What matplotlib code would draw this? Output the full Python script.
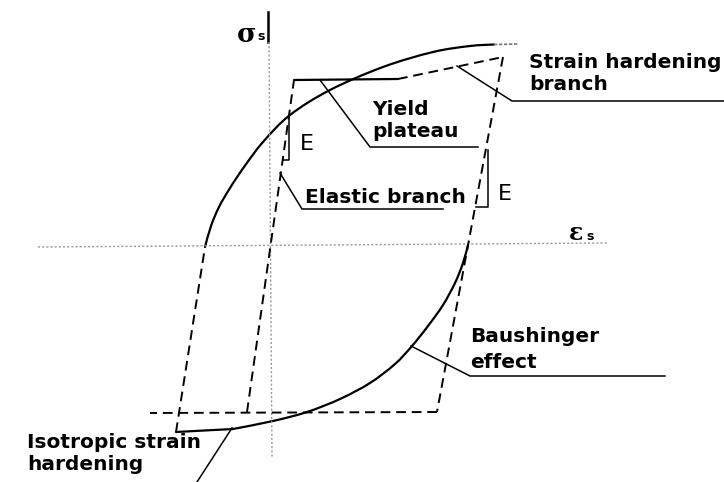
import matplotlib
matplotlib.use("Agg")
import matplotlib.pyplot as plt
from matplotlib.path import Path
from matplotlib.patches import PathPatch

# ---- schematic data (image-space units: x right, y down) ----
# monotonic envelope (inner dashed cycle)
elastic_x = [247, 294]
elastic_y = [412, 80]
plateau_x = [294, 398]
plateau_y = [80, 79]
hardening_x = [398, 503]
hardening_y = [79, 57]
unload_x = [503, 437]
unload_y = [57, 412]
compression_x = [437, 150]
compression_y = [412, 413]

# cyclic curve: upper branch
upper_dash_x = [176, 205]
upper_dash_y = [432, 247]
upper_arc_x = [205, 211, 219, 230, 244, 263, 290, 330, 383, 433, 470, 494]
upper_arc_y = [247, 226, 207, 188, 167, 142, 115, 90, 67, 52, 46, 44.5]
upper_tail_x = [494, 518]
upper_tail_y = [44.5, 44]

# cyclic curve: lower branch
lower_x = [176, 233, 273, 307, 340, 370, 395, 412, 428, 443, 455, 463, 468]
lower_y = [432, 429, 421, 412, 399, 383, 364, 346, 326, 305, 283, 263, 245]

# axes
sig_axis_x = [268, 268]
sig_axis_y = [12, 42]
sig_dot_x = [269, 272]
sig_dot_y = [42, 457]
eps_dot_x = [38, 608]
eps_dot_y = [247, 243]

# slope triangles
e_left_x = [289, 289, 283]
e_left_y = [115, 160, 160]
e_right_x = [488, 488, 476]
e_right_y = [150, 207, 207]

# leader lines
lead_strain_x = [457, 512, 724]
lead_strain_y = [66, 101, 101]
lead_yield_x = [320, 370, 478]
lead_yield_y = [80, 147, 147]
lead_elastic_x = [280, 302, 443]
lead_elastic_y = [173, 209, 209]
lead_bausch_x = [411, 470, 665]
lead_bausch_y = [346, 376, 376]
lead_iso_x = [232, 197]
lead_iso_y = [428, 482]

# labels: (text, x, baseline y)
labels_bold = [
    ("Strain hardening", 529, 68),
    ("branch", 529, 90),
    ("Yield", 372, 115),
    ("plateau", 372, 137),
    ("Elastic branch", 305, 203),
    ("Baushinger", 470, 342),
    ("effect", 470, 368),
    ("Isotropic strain", 27, 448),
    ("hardening", 27, 470),
]
labels_E = [("E", 300, 150), ("E", 498, 200)]


def smooth_path(xs, ys):
    """Cubic Bezier path passing through the given vertices (Catmull-Rom)."""
    pts = list(zip(xs, ys))
    verts = [pts[0]]
    codes = [Path.MOVETO]
    n = len(pts)
    for i in range(n - 1):
        p0 = pts[i - 1] if i > 0 else pts[i]
        p1 = pts[i]
        p2 = pts[i + 1]
        p3 = pts[i + 2] if i + 2 < n else pts[i + 1]
        c1 = (p1[0] + (p2[0] - p0[0]) / 6.0, p1[1] + (p2[1] - p0[1]) / 6.0)
        c2 = (p2[0] - (p3[0] - p1[0]) / 6.0, p2[1] - (p3[1] - p1[1]) / 6.0)
        verts += [c1, c2, p2]
        codes += [Path.CURVE4] * 3
    return Path(verts, codes)


fig = plt.figure(figsize=(7.24, 4.82), dpi=100)
ax = fig.add_axes([0, 0, 1, 1])
ax.set_xlim(0, 724)
ax.set_ylim(482, 0)
ax.axis("off")

dash = dict(color="black", lw=1.4, linestyle=(0, (5, 3)), solid_capstyle="butt")
solid = dict(color="black", lw=1.6, solid_capstyle="round")
thin = dict(color="black", lw=1.1)

# axes (dotted grey)
ax.plot(sig_axis_x, sig_axis_y, color="black", lw=1.8)
ax.plot(sig_dot_x, sig_dot_y, color="#999999", lw=1.0, linestyle=(0, (1.5, 1.5)))
ax.plot(eps_dot_x, eps_dot_y, color="#999999", lw=1.0, linestyle=(0, (1.5, 1.5)))

# envelope
ax.plot(elastic_x, elastic_y, **dash)
ax.plot(plateau_x, plateau_y, **solid)
ax.plot(hardening_x, hardening_y, **dash)
ax.plot(unload_x, unload_y, **dash)
ax.plot(compression_x, compression_y, **dash)

# cyclic curve
ax.plot(upper_dash_x, upper_dash_y, **dash)
ax.add_patch(PathPatch(smooth_path(upper_arc_x, upper_arc_y), fill=False,
                       edgecolor="black", lw=1.6, capstyle="round"))
ax.plot(upper_tail_x, upper_tail_y, color="#777777", lw=1.2, linestyle=(0, (2, 1)))
ax.plot(lower_x[:2], lower_y[:2], **solid)
ax.add_patch(PathPatch(smooth_path(lower_x[1:], lower_y[1:]), fill=False,
                       edgecolor="black", lw=1.6, capstyle="round"))

# slope triangles and leaders
for xs, ys in [(e_left_x, e_left_y), (e_right_x, e_right_y),
               (lead_strain_x, lead_strain_y), (lead_yield_x, lead_yield_y),
               (lead_elastic_x, lead_elastic_y), (lead_bausch_x, lead_bausch_y),
               (lead_iso_x, lead_iso_y)]:
    ax.plot(xs, ys, **thin)

for t, x, y in labels_bold:
    ax.text(x, y, t, fontsize=14.5, fontweight="bold", family="DejaVu Sans",
            ha="left", va="baseline")
for t, x, y in labels_E:
    ax.text(x, y, t, fontsize=16, family="DejaVu Sans", ha="left", va="baseline")

ax.text(237, 42, "σ", fontsize=19, fontweight="bold", family="DejaVu Serif",
        ha="left", va="baseline")
ax.text(257, 40, "s", fontsize=9, fontweight="bold", family="DejaVu Sans",
        ha="left", va="baseline")
ax.text(569, 240, "ε", fontsize=17, fontweight="bold", family="DejaVu Serif",
        ha="left", va="baseline")
ax.text(586, 240, "s", fontsize=9, fontweight="bold", family="DejaVu Sans",
        ha="left", va="baseline")

fig.savefig("out.png", dpi=100)
